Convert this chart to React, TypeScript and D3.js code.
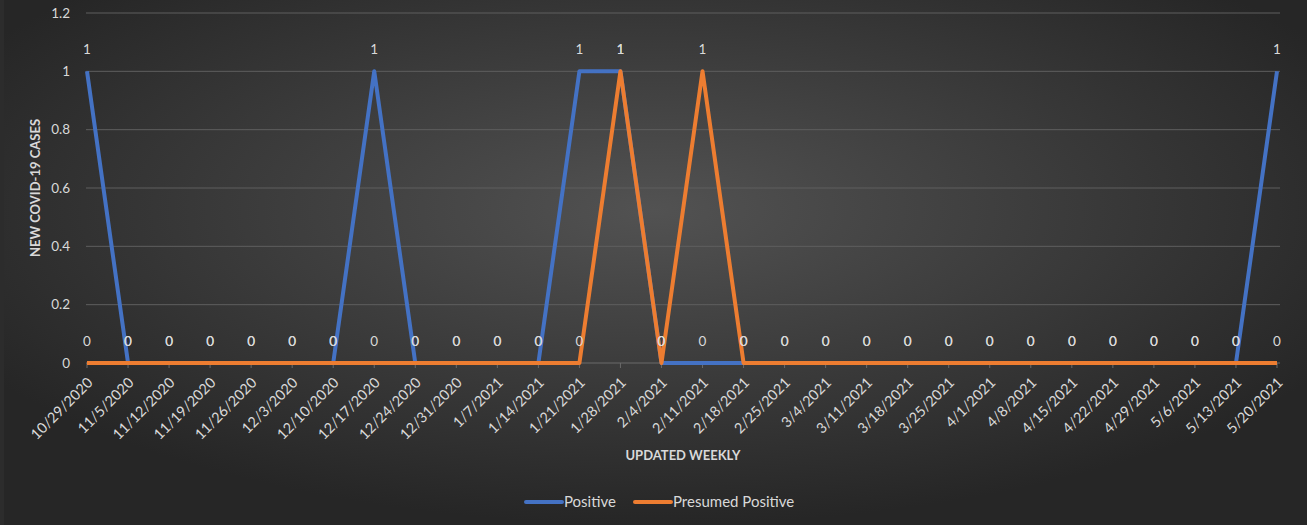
import { useEffect, useRef } from 'react';
import * as d3 from 'd3';

const weeks = [
  '10/29/2020', '11/5/2020', '11/12/2020', '11/19/2020', '11/26/2020', '12/3/2020',
  '12/10/2020', '12/17/2020', '12/24/2020', '12/31/2020', '1/7/2021', '1/14/2021',
  '1/21/2021', '1/28/2021', '2/4/2021', '2/11/2021', '2/18/2021', '2/25/2021',
  '3/4/2021', '3/11/2021', '3/18/2021', '3/25/2021', '4/1/2021', '4/8/2021',
  '4/15/2021', '4/22/2021', '4/29/2021', '5/6/2021', '5/13/2021', '5/20/2021',
];
const positive = [1, 0, 0, 0, 0, 0, 0, 1, 0, 0, 0, 0, 1, 1, 0, 0, 0, 0, 0, 0, 0, 0, 0, 0, 0, 0, 0, 0, 0, 1];
const presumedPositive = [0, 0, 0, 0, 0, 0, 0, 0, 0, 0, 0, 0, 0, 1, 0, 1, 0, 0, 0, 0, 0, 0, 0, 0, 0, 0, 0, 0, 0, 0];
const yTicks = [0, 0.2, 0.4, 0.6, 0.8, 1, 1.2];

const series = [
  { name: 'Positive', values: positive, color: '#4472C4' },
  { name: 'Presumed Positive', values: presumedPositive, color: '#ED7D31' },
];

const W = 1307;
const H = 525;
const font = 'Lato, "Open Sans", sans-serif';

const render = (node: SVGSVGElement) => {
  const svg = d3.select(node);
  svg.selectAll('*').remove();

  // background
  const defs = svg.append('defs');
  const grad = defs
    .append('radialGradient')
    .attr('id', 'bg')
    .attr('cx', '50%')
    .attr('cy', '40%')
    .attr('r', '60%');
  grad.append('stop').attr('offset', '0%').attr('stop-color', '#525252');
  grad.append('stop').attr('offset', '100%').attr('stop-color', '#262626');
  svg.append('rect').attr('width', W).attr('height', H).attr('fill', 'url(#bg)');
  svg.append('rect').attr('width', 4).attr('height', H).attr('fill', '#2c2c2c');

  const x = d3.scalePoint<string>().domain(weeks).range([87, 1277]);
  const y = d3.scaleLinear().domain([0, 1.2]).range([363, 13]);

  // gridlines
  svg
    .append('g')
    .selectAll('line')
    .data(yTicks.filter((t) => t > 0))
    .enter()
    .append('line')
    .attr('x1', 86)
    .attr('x2', 1280)
    .attr('y1', (d) => y(d))
    .attr('y2', (d) => y(d))
    .attr('stroke', '#5e5e5e')
    .attr('stroke-width', 1);

  // y tick labels
  svg
    .append('g')
    .selectAll('text')
    .data(yTicks)
    .enter()
    .append('text')
    .attr('x', 70)
    .attr('y', (d) => y(d))
    .attr('dy', '0.35em')
    .attr('text-anchor', 'end')
    .attr('fill', '#d9d9d9')
    .attr('font-size', 13.5)
    .attr('font-family', font)
    .text((d) => d3.format('~g')(d));

  // x axis line and ticks
  svg
    .append('line')
    .attr('x1', 86)
    .attr('x2', 1280)
    .attr('y1', y(0))
    .attr('y2', y(0))
    .attr('stroke', '#6a6a6a');
  svg
    .append('g')
    .selectAll('line')
    .data(weeks)
    .enter()
    .append('line')
    .attr('x1', (d) => x(d)!)
    .attr('x2', (d) => x(d)!)
    .attr('y1', y(0))
    .attr('y2', y(0) + 5)
    .attr('stroke', '#6a6a6a');

  svg
    .append('g')
    .selectAll('text')
    .data(weeks)
    .enter()
    .append('text')
    .attr('transform', (d) => `translate(${x(d)! + 3},${y(0) + 17}) rotate(-45)`)
    .attr('text-anchor', 'end')
    .attr('dy', '0.35em')
    .attr('fill', '#d9d9d9')
    .attr('font-size', 14.5)
    .attr('font-family', font)
    .text((d) => d);

  // lines
  const line = d3
    .line<number>()
    .x((_, i) => x(weeks[i])!)
    .y((d) => y(d));

  series.forEach((s) => {
    svg
      .append('path')
      .datum(s.values)
      .attr('d', line)
      .attr('fill', 'none')
      .attr('stroke', s.color)
      .attr('stroke-width', 4)
      .attr('stroke-linejoin', 'round');
  });

  // data labels
  series.forEach((s) => {
    svg
      .append('g')
      .selectAll('text')
      .data(s.values)
      .enter()
      .append('text')
      .attr('x', (_, i) => x(weeks[i])!)
      .attr('y', (d) => y(d) - 22)
      .attr('dy', '0.35em')
      .attr('text-anchor', 'middle')
      .attr('fill', '#d9d9d9')
      .attr('font-size', 13.5)
      .attr('font-family', font)
      .text((d) => d);
  });

  // axis titles
  svg
    .append('text')
    .attr('transform', `translate(40,${(y(0) + y(1.2)) / 2}) rotate(-90)`)
    .attr('text-anchor', 'middle')
    .attr('fill', '#d9d9d9')
    .attr('font-size', 13)
    .attr('font-weight', 'bold')
    .attr('font-family', font)
    .text('NEW COVID-19 CASES');

  svg
    .append('text')
    .attr('x', 683)
    .attr('y', 460)
    .attr('text-anchor', 'middle')
    .attr('fill', '#d9d9d9')
    .attr('font-size', 13)
    .attr('font-weight', 'bold')
    .attr('font-family', font)
    .text('UPDATED WEEKLY');

  // legend
  const legendX = [526, 635];
  series.forEach((s, i) => {
    const g = svg.append('g').attr('transform', `translate(${legendX[i]},502)`);
    g.append('line')
      .attr('x1', 0)
      .attr('x2', 36)
      .attr('stroke', s.color)
      .attr('stroke-width', 4)
      .attr('stroke-linecap', 'round');
    g.append('text')
      .attr('x', 38)
      .attr('dy', '0.35em')
      .attr('fill', '#d9d9d9')
      .attr('font-size', 15)
      .attr('font-family', font)
      .text(s.name);
  });
};

export default function App() {
  const ref = useRef<SVGSVGElement>(null);
  useEffect(() => {
    document.body.style.margin = '0';
    if (ref.current) render(ref.current);
  }, []);
  return <svg ref={ref} width={W} height={H} style={{ display: 'block' }} />;
}
